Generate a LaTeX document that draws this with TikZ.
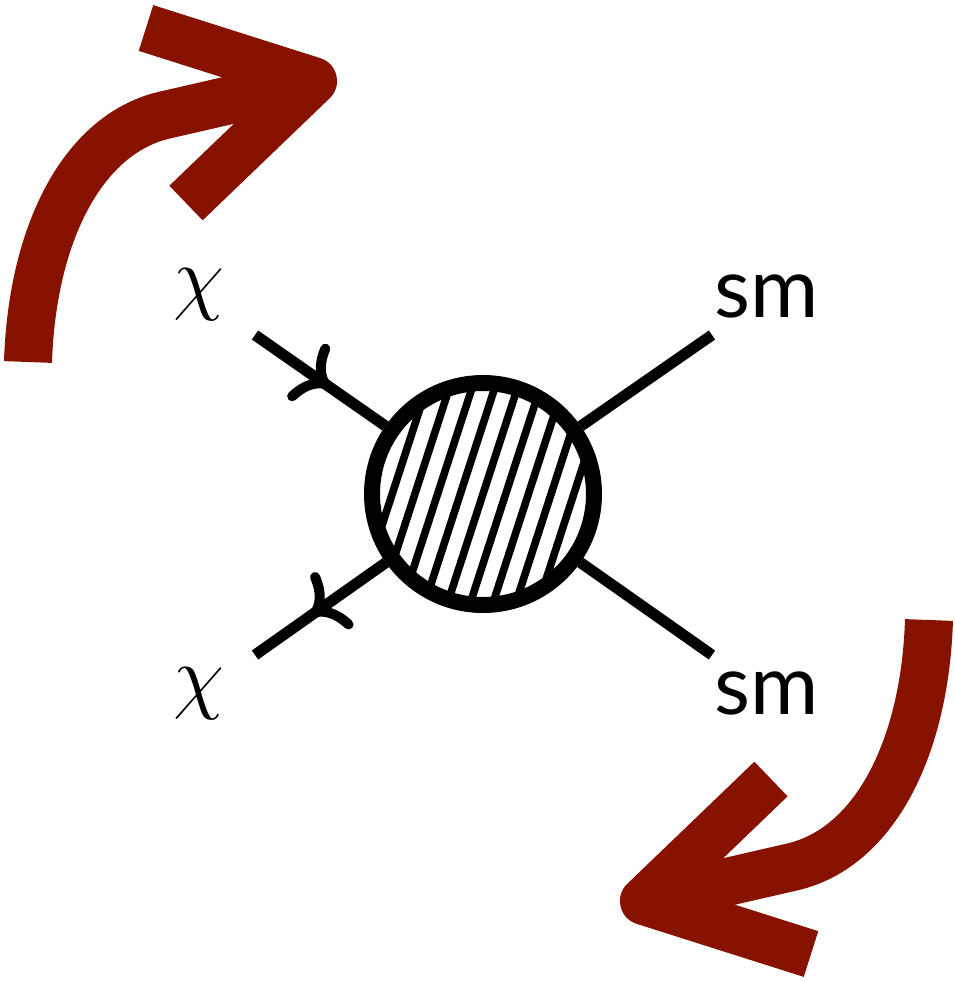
\RequirePackage{fix-cm}
\documentclass[tikz,border=0pt]{standalone}
\usepackage{fontspec}
\newfontfamily\smfont{Lato}
\usetikzlibrary{arrows.meta,decorations.markings}
\definecolor{turnred}{RGB}{135,18,0}
\begin{document}
\begin{tikzpicture}[x=.5pt,y=-.5pt,line join=round,
	leg/.style={line width=5.5pt},
	fermion/.style={leg,postaction={decorate},decoration={markings,
		mark=at position .57 with {\arrow{Computer Modern Rightarrow[length=15pt,width=34pt,line width=5pt]}}}},
	blob/.style={circle,draw,fill=white,line width=8pt,minimum size=111pt,inner sep=0pt,
		path picture={\foreach \k in {-6,...,6}
			\draw[line width=3.8pt]([xshift=\k*11.35pt]path picture bounding box.center)++(72:-70pt)--++(72:140pt);}},
	turn/.style={turnred,line width=24pt},
	lbl/.style={font=\fontsize{41.5}{50}\selectfont}]
	\useasboundingbox (0,0) rectangle (955,982);
	% vertex
	\node[blob] (blob) at (483,494) {};
	\coordinate (inA) at (255,335);
	\coordinate (inB) at (255,655);
	\coordinate (outA) at (712,335);
	\coordinate (outB) at (712,655);
	\node[lbl] (chiA) at (199,295) {$\chi$};
	\node[lbl] (chiB) at (199,694) {$\chi$};
	\node[lbl,font=\fontsize{41.5}{50}\selectfont\smfont] (smA) at (767,296) {sm};
	\node[lbl,font=\fontsize{41.5}{50}\selectfont\smfont] (smB) at (767,693) {sm};
	\draw[fermion] (inA) -- (blob);
	\draw[fermion] (blob) -- (inB);
	\draw[leg] (blob) -- (outA);
	\draw[leg] (blob) -- (outB);
	% turning arrows
	\foreach \r in {0,180}{
	\begin{scope}[rotate around={\r:(478.5,491)}]
		\draw[turn] (28,362) .. controls (32,235) and (82,134) .. (165,115) -- (313,81);
		\draw[turn] (146,28) -- (313,81) -- (186,203);
	\end{scope}
	}
\end{tikzpicture}
\end{document}
